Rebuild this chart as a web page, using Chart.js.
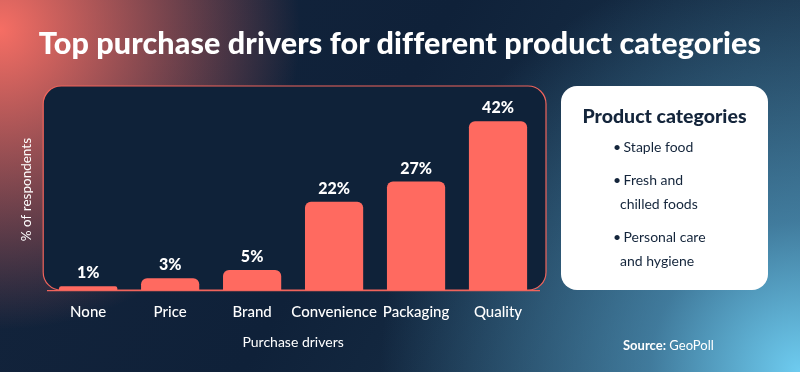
<!DOCTYPE html>
<html>
<head>
<meta charset="utf-8">
<script src="https://cdn.jsdelivr.net/npm/chart.js@4"></script>
<style>
  html, body { margin: 0; padding: 0; }
  body {
    width: 800px; height: 372px; overflow: hidden; position: relative;
    font-family: Lato, "Open Sans", sans-serif;
    background:
      radial-gradient(circle at 0% 8%, rgba(246,110,100,1) 0px, rgba(246,110,100,0.6) 120px, rgba(246,110,100,0) 300px),
      radial-gradient(circle at 100% 100%, rgba(110,204,240,1) 0px, rgba(90,170,210,0.6) 150px, rgba(40,80,110,0) 420px),
      linear-gradient(120deg, #14243c 0%, #0f2139 45%, #1e3a52 100%);
  }
  #title {
    position: absolute; left: 0; top: 24px; width: 800px; text-align: center;
    color: #fff; font-weight: 900; font-size: 30.5px; letter-spacing: 0.1px;
  }
  #wrap { position: absolute; left: 0; top: 0; width: 800px; height: 372px; }
  #legendBox {
    position: absolute; left: 561px; top: 86px; width: 207px; height: 204px;
    background: #fff; border-radius: 16px; color: #14253b;
  }
  #legendBox h3 {
    margin: 0; position: absolute; top: 18px; width: 100%; text-align: center;
    font-size: 19.5px; font-weight: 900;
  }
  #legendBox ul {
    list-style: none; margin: 0; padding: 0; position: absolute; left: 52px; top: 49px;
    font-size: 14px; line-height: 24px;
  }
  #legendBox li { margin-bottom: 9px; }
  #legendBox li span.b { display: inline-block; width: 7px; }
  #legendBox li span.c { padding-left: 7px; }
  #source {
    position: absolute; left: 623px; top: 337px; color: #fff; font-size: 13px;
  }
</style>
</head>
<body>
<div id="wrap"><canvas id="chart" width="800" height="372"></canvas></div>
<div id="title">Top purchase drivers for different product categories</div>
<div id="legendBox">
  <h3>Product categories</h3>
  <ul>
    <li><span class="b">•</span> Staple food</li>
    <li><span class="b">•</span> Fresh and<br><span class="c">chilled foods</span></li>
    <li><span class="b">•</span> Personal care<br><span class="c">and hygiene</span></li>
  </ul>
</div>
<div id="source"><b>Source:</b> GeoPoll</div>
<script>
const drivers = ['None', 'Price', 'Brand', 'Convenience', 'Packaging', 'Quality'];
const percentValues = [1, 3, 5, 22, 27, 42];

const barColor = '#ff6a60';
const boxColor = '#f0645c';

// rounded frame behind the plot area
const framePlugin = {
  id: 'frame',
  beforeDraw(chart) {
    const a = chart.chartArea;
    const ctx = chart.ctx;
    const x = a.left - 4, y = a.top - 3, w = a.right + 7 - x, h = a.bottom - y;
    ctx.save();
    ctx.beginPath();
    ctx.roundRect(x, y, w, h, 18);
    ctx.fillStyle = '#0f2239';
    ctx.fill();
    ctx.lineWidth = 1.2;
    ctx.strokeStyle = boxColor;
    ctx.stroke();
    ctx.restore();
  }
};

// value labels above bars
const valueLabels = {
  id: 'valueLabels',
  afterDatasetsDraw(chart) {
    const ctx = chart.ctx;
    const meta = chart.getDatasetMeta(0);
    ctx.save();
    ctx.fillStyle = '#fff';
    ctx.font = '900 16px Lato';
    ctx.textAlign = 'center';
    ctx.textBaseline = 'bottom';
    meta.data.forEach((bar, i) => {
      ctx.fillText(percentValues[i] + '%', bar.x, bar.y - 5);
    });
    ctx.restore();
  }
};

new Chart(document.getElementById('chart'), {
  type: 'bar',
  data: {
    labels: drivers,
    datasets: [{
      data: percentValues,
      backgroundColor: barColor,
      borderRadius: { topLeft: 6, topRight: 6 },
      borderSkipped: 'start',
      barPercentage: 0.71,
      categoryPercentage: 1
    }]
  },
  options: {
    responsive: false,
    animation: false,
    layout: { padding: { left: 19, right: 261, top: 89, bottom: 21 } },
    plugins: { legend: { display: false }, tooltip: { enabled: false } },
    scales: {
      x: {
        grid: { display: false, drawTicks: false },
        border: { display: true, color: boxColor, width: 1.2 },
        ticks: {
          color: '#fff', padding: 13, maxRotation: 0, minRotation: 0, autoSkip: false,
          font: { family: 'Lato', size: 15, weight: '500' }
        },
        title: {
          display: true, text: 'Purchase drivers', color: '#fff', padding: 0,
          font: { family: 'Lato', size: 14 }
        }
      },
      y: {
        min: 0, max: 50,
        grid: { display: false, drawTicks: false },
        border: { display: false },
        ticks: { display: false },
        title: {
          display: true, text: '% of respondents', color: '#fff',
          padding: { top: 0, bottom: 12 },
          font: { family: 'Lato', size: 13.5 }
        }
      }
    }
  },
  plugins: [framePlugin, valueLabels]
});
</script>
</body>
</html>
